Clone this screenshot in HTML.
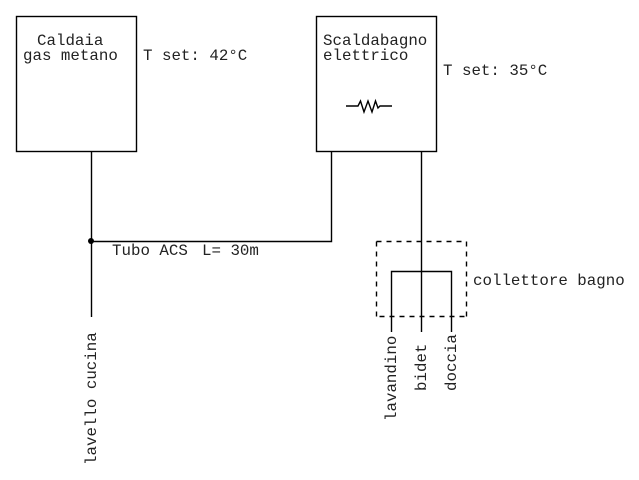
<!DOCTYPE html>
<html><head><meta charset="utf-8"><style>html,body{margin:0;padding:0;background:#fff}svg{display:block}text{font-family:"Liberation Mono",monospace;font-size:15.8px;fill:#222}</style></head><body>
<svg width="639" height="480" viewBox="0 0 639 480" xmlns="http://www.w3.org/2000/svg">
<g fill="none" stroke="#000" stroke-width="1.4">
<rect x="16.5" y="16.5" width="120" height="135"/>
<rect x="316.500" y="16.500" width="120" height="135"/>
<path d="M91.500 151V317M91.500 241.500H331.500V151M421.500 151V332M391.500 332V271.500H451.500V332"/>
<path d="M346 106H358L360.500 101L364 112L368 101L372 112L375.500 101L378 108L380 106H392"/>
<path stroke-dasharray="5 5" d="M376.500 241.500H466.500M376.500 241.500V316.500M466.500 241.500V316.500M379.500 316.500H466.500"/>
</g>
<circle cx="91" cy="241" r="3" fill="#000"/>
<text x="37" y="45">Caldaia</text>
<text x="23" y="60">gas metano</text>
<text x="143" y="60">T set: 42°C</text>
<text x="323" y="45">Scaldabagno</text>
<text x="323" y="60">elettrico</text>
<text x="443" y="75">T set: 35°C</text>
<text x="112" y="255">Tubo ACS</text>
<text x="202" y="255">L= 30m</text>
<text x="473" y="285">collettore bagno</text>
<text transform="translate(96 465) rotate(-90)">lavello cucina</text>
<text transform="translate(396 421) rotate(-90)">lavandino</text>
<text transform="translate(426 391) rotate(-90)">bidet</text>
<text transform="translate(456 391) rotate(-90)">doccia</text>
</svg>
</body></html>
